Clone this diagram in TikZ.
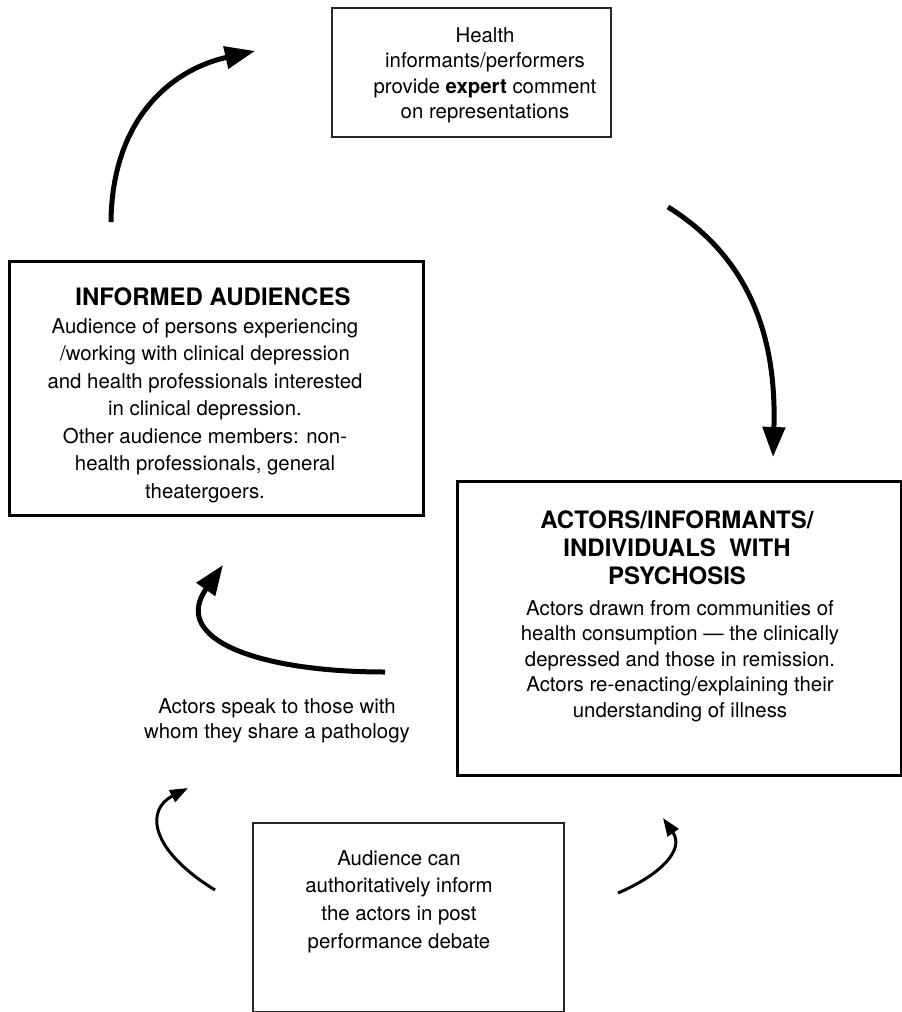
\documentclass[tikz,border=0pt]{standalone}
\usepackage{fontspec}
\setmainfont{TeX Gyre Heros}
\usetikzlibrary{arrows.meta}
\begin{document}
\begin{tikzpicture}[x=1pt,y=-1pt,
 box/.style={draw, anchor=north west, inner sep=0pt},
 thinbox/.style={box, line width=1.6pt, draw=black!85},
 thickbox/.style={box, line width=3pt},
 txt/.style={align=center, inner sep=0pt, anchor=north},
 body/.style={txt, font=\fontsize{20.4}{27.5}\selectfont},
 title/.style={txt, font=\fontsize{24}{28.5}\selectfont\bfseries},
 bigarrow/.style={line width=5pt, -{Triangle[length=30pt,width=22pt]}},
 smallarrow/.style={line width=3pt, -{Triangle[length=18pt,width=13pt]}}
]
\useasboundingbox (0,0) rectangle (902,1012);
% boxes
\node[thinbox, minimum width=279pt, minimum height=129pt] (topbox) at (331,7) {};
\node[thickbox, minimum width=414pt, minimum height=254pt] (leftbox) at (8,260) {};
\node[thickbox, minimum width=444pt, minimum height=294pt] (rightbox) at (456,480) {};
\node[thinbox, minimum width=311pt, minimum height=189pt] (bottombox) at (252,822) {};
% texts
\node[body, font=\fontsize{20.4}{25.5}\selectfont] (toptext) at (485,27)
 {Health\\informants/performers\\provide \textbf{expert} comment\\on representations};
\node[title] (lefttitle) at (213,288) {INFORMED AUDIENCES};
\node[body] (lefttext) at (205,318)
 {Audience of persons experiencing\\/working with clinical depression\\and health professionals interested\\in clinical depression.\\Other audience members: non-\\health professionals, general\\theatergoers.};
\node[title, font=\fontsize{24}{28}\selectfont\bfseries] (righttitle) at (677,511)
 {ACTORS/INFORMANTS/\\INDIVIDUALS\ \ WITH\\PSYCHOSIS};
\node[body, font=\fontsize{20.4}{25.5}\selectfont] (righttext) at (680,600)
 {Actors drawn from communities of\\health consumption — the clinically\\depressed and those in remission.\\Actors re-enacting/explaining their\\understanding of illness};
\node[body, font=\fontsize{20.4}{25}\selectfont] (label) at (277,698)
 {Actors speak to those with\\whom they share a pathology};
\node[body, font=\fontsize{20.4}{27.7}\selectfont] (bottomtext) at (399,850)
 {Audience can\\authoritatively inform\\the actors in post\\performance debate};
% arrows
\coordinate (a1s) at (111,222); \coordinate (a1e) at (255,51);
\coordinate (a2s) at (668,207); \coordinate (a2e) at (773,457);
\coordinate (a3s) at (385,672); \coordinate (a3e) at (223,565);
\coordinate (a4s) at (215,890); \coordinate (a4e) at (188,788);
\coordinate (a5s) at (618,893); \coordinate (a5e) at (663,818);
\draw[bigarrow] (a1s) .. controls (112,120) and (170,70) .. (a1e);
\draw[bigarrow] (a2s) .. controls (745,255) and (777,330) .. (a2e);
\draw[bigarrow] (a3s) .. controls (260,672) and (170,640) .. (a3e);
\draw[smallarrow] (a4s) .. controls (150,850) and (145,810) .. (a4e);
\draw[smallarrow] (a5s) .. controls (660,875) and (685,850) .. (a5e);
\end{tikzpicture}
\end{document}
